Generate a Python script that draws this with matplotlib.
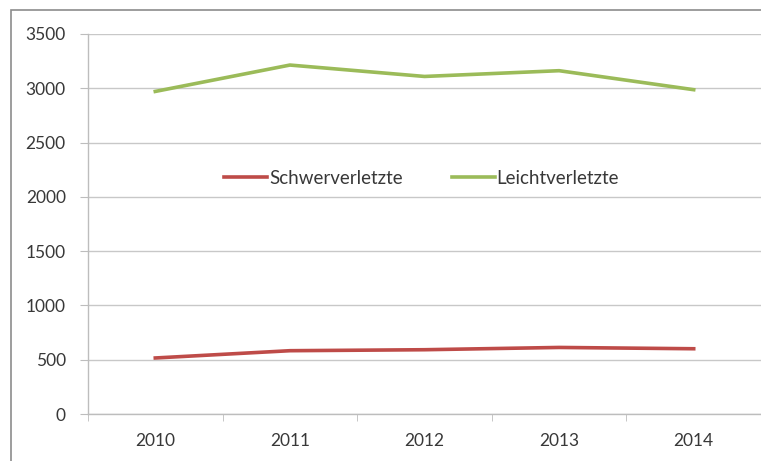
import matplotlib.pyplot as plt
from matplotlib.patches import Rectangle

plt.rcParams['font.family'] = ['Lato', 'DejaVu Sans']

jahre = ['2010', '2011', '2012', '2013', '2014']
schwerverletzte = [516, 583, 592, 613, 601]
leichtverletzte = [2971, 3214, 3109, 3162, 2987]

fig = plt.figure(figsize=(7.61, 4.61), dpi=100)
ax = fig.add_axes([88 / 761, 1 - 414 / 461, 1 - 88 / 761, 380 / 461])

# outer chart frame
fig.patches.append(Rectangle((11 / 761, -0.1), 1.2, 1 - 10 / 461 + 0.1,
                             transform=fig.transFigure, fill=False,
                             edgecolor='#8c8c8c', linewidth=1.2))

x = range(len(jahre))
ax.plot(x, schwerverletzte, color='#be4b48', linewidth=2.6, label='Schwerverletzte')
ax.plot(x, leichtverletzte, color='#9bbb59', linewidth=2.6, label='Leichtverletzte')

ax.set_ylim(0, 3500)
ax.set_yticks(range(0, 3501, 500))
ax.set_xlim(-0.5, len(jahre) - 0.5)
ax.set_xticks(list(x))
ax.set_xticklabels(jahre)
ax.set_xticks([i - 0.5 for i in range(len(jahre) + 1)], minor=True)

ax.grid(axis='y', color='#c8c8c8', linewidth=1.0)
ax.set_axisbelow(True)
for s in ['top', 'right']:
    ax.spines[s].set_visible(False)
for s in ['left', 'bottom']:
    ax.spines[s].set_color('#bdbdbd')
    ax.spines[s].set_linewidth(1.0)

ax.tick_params(axis='y', length=6, color='#bdbdbd', labelsize=12.5,
               labelcolor='#383838', pad=10)
ax.tick_params(axis='x', which='major', length=0, labelsize=12.5,
               labelcolor='#383838', pad=14)
ax.tick_params(axis='x', which='minor', length=5, color='#bdbdbd')

ax.legend(loc='center', bbox_to_anchor=(0.496, 0.621), ncol=2, frameon=False,
          fontsize=13.5, handlelength=2.3, handletextpad=0.1, columnspacing=2.6,
          labelcolor='#383838')

fig.savefig('out.png', dpi=100)
